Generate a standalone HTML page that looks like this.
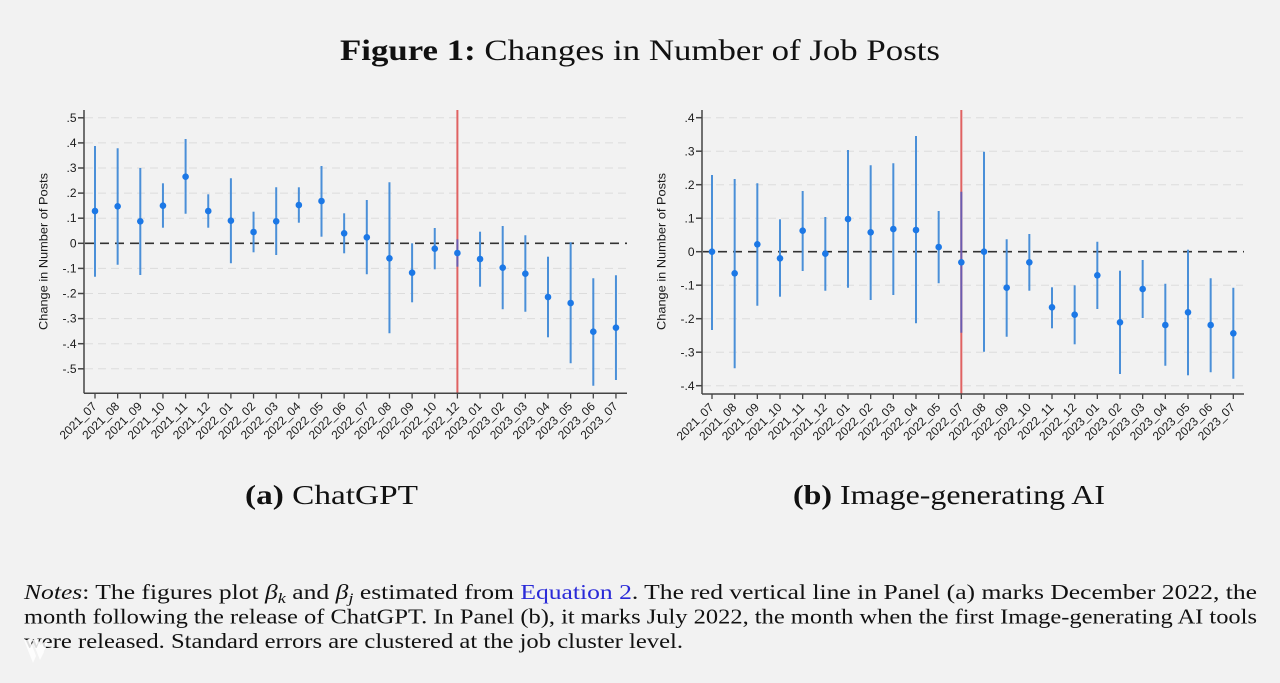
<!DOCTYPE html>
<html><head><meta charset="utf-8"><style>
html,body{margin:0;padding:0;background:#f2f2f2;}
svg{display:block;}
.tk{font-family:"Liberation Sans",Arial,sans-serif;font-size:12px;fill:#1a1a1a;}
.ser{font-family:"Liberation Serif","DejaVu Serif",serif;fill:#111;}
</style></head><body>
<svg width="1280" height="683" viewBox="0 0 1280 683" xmlns="http://www.w3.org/2000/svg">
<rect width="1280" height="683" fill="#f2f2f2"/>

<!-- Title -->
<text class="ser" x="340" y="60" font-size="30" textLength="600" lengthAdjust="spacingAndGlyphs"><tspan font-weight="bold">Figure 1:</tspan> Changes in Number of Job Posts</text>

<!-- ================= LEFT CHART ================= -->
<g stroke="#dcdcdc" stroke-width="1" stroke-dasharray="8 5">
<line x1="85" y1="117.8" x2="627" y2="117.8"/>
<line x1="85" y1="142.9" x2="627" y2="142.9"/>
<line x1="85" y1="168" x2="627" y2="168"/>
<line x1="85" y1="193.1" x2="627" y2="193.1"/>
<line x1="85" y1="218.2" x2="627" y2="218.2"/>
<line x1="85" y1="268.4" x2="627" y2="268.4"/>
<line x1="85" y1="293.5" x2="627" y2="293.5"/>
<line x1="85" y1="318.6" x2="627" y2="318.6"/>
<line x1="85" y1="343.7" x2="627" y2="343.7"/>
<line x1="85" y1="368.8" x2="627" y2="368.8"/>
</g>
<line x1="85" y1="243.3" x2="627" y2="243.3" stroke="#333" stroke-width="1.6" stroke-dasharray="9 6"/>
<line x1="457.4" y1="110" x2="457.4" y2="393" stroke="#e06262" stroke-width="2"/>
<!-- axes -->
<g stroke="#444" stroke-width="1.5">
<line x1="84" y1="110" x2="84" y2="393.3"/>
<line x1="84" y1="393.3" x2="627" y2="393.3"/>
<line x1="78" y1="117.8" x2="84" y2="117.8"/>
<line x1="78" y1="142.9" x2="84" y2="142.9"/>
<line x1="78" y1="168" x2="84" y2="168"/>
<line x1="78" y1="193.1" x2="84" y2="193.1"/>
<line x1="78" y1="218.2" x2="84" y2="218.2"/>
<line x1="78" y1="243.3" x2="84" y2="243.3"/>
<line x1="78" y1="268.4" x2="84" y2="268.4"/>
<line x1="78" y1="293.5" x2="84" y2="293.5"/>
<line x1="78" y1="318.6" x2="84" y2="318.6"/>
<line x1="78" y1="343.7" x2="84" y2="343.7"/>
<line x1="78" y1="368.8" x2="84" y2="368.8"/>
</g>
<g stroke="#444" stroke-width="1.3">
<line x1="95" y1="393" x2="95" y2="398.5"/>
<line x1="117.65" y1="393" x2="117.65" y2="398.5"/>
<line x1="140.3" y1="393" x2="140.3" y2="398.5"/>
<line x1="162.95" y1="393" x2="162.95" y2="398.5"/>
<line x1="185.6" y1="393" x2="185.6" y2="398.5"/>
<line x1="208.25" y1="393" x2="208.25" y2="398.5"/>
<line x1="230.9" y1="393" x2="230.9" y2="398.5"/>
<line x1="253.55" y1="393" x2="253.55" y2="398.5"/>
<line x1="276.2" y1="393" x2="276.2" y2="398.5"/>
<line x1="298.85" y1="393" x2="298.85" y2="398.5"/>
<line x1="321.5" y1="393" x2="321.5" y2="398.5"/>
<line x1="344.15" y1="393" x2="344.15" y2="398.5"/>
<line x1="366.8" y1="393" x2="366.8" y2="398.5"/>
<line x1="389.45" y1="393" x2="389.45" y2="398.5"/>
<line x1="412.1" y1="393" x2="412.1" y2="398.5"/>
<line x1="434.75" y1="393" x2="434.75" y2="398.5"/>
<line x1="457.4" y1="393" x2="457.4" y2="398.5"/>
<line x1="480.05" y1="393" x2="480.05" y2="398.5"/>
<line x1="502.7" y1="393" x2="502.7" y2="398.5"/>
<line x1="525.35" y1="393" x2="525.35" y2="398.5"/>
<line x1="548" y1="393" x2="548" y2="398.5"/>
<line x1="570.65" y1="393" x2="570.65" y2="398.5"/>
<line x1="593.3" y1="393" x2="593.3" y2="398.5"/>
<line x1="615.95" y1="393" x2="615.95" y2="398.5"/>
</g>
<!-- y tick labels -->
<g class="tk" text-anchor="end" font-size="12.5">
<text x="76.5" y="122">.5</text>
<text x="76.5" y="147">.4</text>
<text x="76.5" y="172">.3</text>
<text x="76.5" y="197">.2</text>
<text x="76.5" y="222">.1</text>
<text x="76.5" y="247.5">0</text>
<text x="76.5" y="272.5">-.1</text>
<text x="76.5" y="297.5">-.2</text>
<text x="76.5" y="322.5">-.3</text>
<text x="76.5" y="348">-.4</text>
<text x="76.5" y="373">-.5</text>
</g>
<text class="tk" font-size="11.5" text-anchor="middle" transform="translate(47.5,251.5) rotate(-90)" textLength="157" lengthAdjust="spacingAndGlyphs">Change in Number of Posts</text>
<!-- x labels -->
<g class="tk" text-anchor="end">
<text transform="translate(97.5,407) rotate(-45)">2021_07</text>
<text transform="translate(120.15,407) rotate(-45)">2021_08</text>
<text transform="translate(142.8,407) rotate(-45)">2021_09</text>
<text transform="translate(165.45,407) rotate(-45)">2021_10</text>
<text transform="translate(188.1,407) rotate(-45)">2021_11</text>
<text transform="translate(210.75,407) rotate(-45)">2021_12</text>
<text transform="translate(233.4,407) rotate(-45)">2022_01</text>
<text transform="translate(256.05,407) rotate(-45)">2022_02</text>
<text transform="translate(278.7,407) rotate(-45)">2022_03</text>
<text transform="translate(301.35,407) rotate(-45)">2022_04</text>
<text transform="translate(324,407) rotate(-45)">2022_05</text>
<text transform="translate(346.65,407) rotate(-45)">2022_06</text>
<text transform="translate(369.3,407) rotate(-45)">2022_07</text>
<text transform="translate(391.95,407) rotate(-45)">2022_08</text>
<text transform="translate(414.6,407) rotate(-45)">2022_09</text>
<text transform="translate(437.25,407) rotate(-45)">2022_10</text>
<text transform="translate(459.9,407) rotate(-45)">2022_12</text>
<text transform="translate(482.55,407) rotate(-45)">2023_01</text>
<text transform="translate(505.2,407) rotate(-45)">2023_02</text>
<text transform="translate(527.85,407) rotate(-45)">2023_03</text>
<text transform="translate(550.5,407) rotate(-45)">2023_04</text>
<text transform="translate(573.15,407) rotate(-45)">2023_05</text>
<text transform="translate(595.8,407) rotate(-45)">2023_06</text>
<text transform="translate(618.45,407) rotate(-45)">2023_07</text>
</g>
<!-- CIs -->
<g stroke="#4a8fd8" stroke-width="2">
<line x1="95" y1="146" x2="95" y2="276.7"/>
<line x1="117.65" y1="148.3" x2="117.65" y2="264.7"/>
<line x1="140.3" y1="168" x2="140.3" y2="275"/>
<line x1="162.95" y1="183.3" x2="162.95" y2="227.7"/>
<line x1="185.6" y1="139" x2="185.6" y2="213.7"/>
<line x1="208.25" y1="194.3" x2="208.25" y2="227.7"/>
<line x1="230.9" y1="178.3" x2="230.9" y2="263.3"/>
<line x1="253.55" y1="211.7" x2="253.55" y2="252.3"/>
<line x1="276.2" y1="187.3" x2="276.2" y2="255"/>
<line x1="298.85" y1="187.3" x2="298.85" y2="222.7"/>
<line x1="321.5" y1="166" x2="321.5" y2="236.7"/>
<line x1="344.15" y1="213.3" x2="344.15" y2="253.3"/>
<line x1="366.8" y1="200" x2="366.8" y2="274.3"/>
<line x1="389.45" y1="182.3" x2="389.45" y2="333.3"/>
<line x1="412.1" y1="243.3" x2="412.1" y2="302.3"/>
<line x1="434.75" y1="228" x2="434.75" y2="269.3"/>
<line x1="457.4" y1="239.3" x2="457.4" y2="266.7" stroke="#6a5cb0"/>
<line x1="480.05" y1="231.7" x2="480.05" y2="286.7"/>
<line x1="502.7" y1="226" x2="502.7" y2="309.3"/>
<line x1="525.35" y1="235.3" x2="525.35" y2="311.7"/>
<line x1="548" y1="256.7" x2="548" y2="337.3"/>
<line x1="570.65" y1="242.3" x2="570.65" y2="363.3"/>
<line x1="593.3" y1="278.3" x2="593.3" y2="385.7"/>
<line x1="615.95" y1="275.3" x2="615.95" y2="380"/>
</g>
<g fill="#1c78e6">
<circle cx="95" cy="211" r="3.3"/>
<circle cx="117.65" cy="206.3" r="3.3"/>
<circle cx="140.3" cy="221.3" r="3.3"/>
<circle cx="162.95" cy="205.7" r="3.3"/>
<circle cx="185.6" cy="176.7" r="3.3"/>
<circle cx="208.25" cy="211" r="3.3"/>
<circle cx="230.9" cy="220.7" r="3.3"/>
<circle cx="253.55" cy="232" r="3.3"/>
<circle cx="276.2" cy="221.3" r="3.3"/>
<circle cx="298.85" cy="205" r="3.3"/>
<circle cx="321.5" cy="201" r="3.3"/>
<circle cx="344.15" cy="233.3" r="3.3"/>
<circle cx="366.8" cy="237.3" r="3.3"/>
<circle cx="389.45" cy="258.3" r="3.3"/>
<circle cx="412.1" cy="272.7" r="3.3"/>
<circle cx="434.75" cy="248.7" r="3.3"/>
<circle cx="457.4" cy="253" r="3.3"/>
<circle cx="480.05" cy="259" r="3.3"/>
<circle cx="502.7" cy="267.7" r="3.3"/>
<circle cx="525.35" cy="273.7" r="3.3"/>
<circle cx="548" cy="297" r="3.3"/>
<circle cx="570.65" cy="303" r="3.3"/>
<circle cx="593.3" cy="331.7" r="3.3"/>
<circle cx="615.95" cy="327.7" r="3.3"/>
</g>

<!-- ================= RIGHT CHART ================= -->
<g stroke="#dcdcdc" stroke-width="1" stroke-dasharray="8 5">
<line x1="703" y1="117.7" x2="1243" y2="117.7"/>
<line x1="703" y1="151.2" x2="1243" y2="151.2"/>
<line x1="703" y1="184.7" x2="1243" y2="184.7"/>
<line x1="703" y1="218.2" x2="1243" y2="218.2"/>
<line x1="703" y1="285.2" x2="1243" y2="285.2"/>
<line x1="703" y1="318.7" x2="1243" y2="318.7"/>
<line x1="703" y1="352.2" x2="1243" y2="352.2"/>
<line x1="703" y1="385.7" x2="1243" y2="385.7"/>
</g>
<line x1="703" y1="251.7" x2="1244" y2="251.7" stroke="#333" stroke-width="1.6" stroke-dasharray="9 6"/>
<line x1="961.33" y1="110" x2="961.33" y2="394" stroke="#e06262" stroke-width="2"/>
<g stroke="#444" stroke-width="1.5">
<line x1="702" y1="110" x2="702" y2="394"/>
<line x1="702" y1="394" x2="1244" y2="394"/>
<line x1="696" y1="117.7" x2="702" y2="117.7"/>
<line x1="696" y1="151.2" x2="702" y2="151.2"/>
<line x1="696" y1="184.7" x2="702" y2="184.7"/>
<line x1="696" y1="218.2" x2="702" y2="218.2"/>
<line x1="696" y1="251.7" x2="702" y2="251.7"/>
<line x1="696" y1="285.2" x2="702" y2="285.2"/>
<line x1="696" y1="318.7" x2="702" y2="318.7"/>
<line x1="696" y1="352.2" x2="702" y2="352.2"/>
<line x1="696" y1="385.7" x2="702" y2="385.7"/>
</g>
<g stroke="#444" stroke-width="1.3">
<line x1="712" y1="394" x2="712" y2="399"/>
<line x1="734.67" y1="394" x2="734.67" y2="399"/>
<line x1="757.33" y1="394" x2="757.33" y2="399"/>
<line x1="780" y1="394" x2="780" y2="399"/>
<line x1="802.67" y1="394" x2="802.67" y2="399"/>
<line x1="825.33" y1="394" x2="825.33" y2="399"/>
<line x1="848" y1="394" x2="848" y2="399"/>
<line x1="870.67" y1="394" x2="870.67" y2="399"/>
<line x1="893.33" y1="394" x2="893.33" y2="399"/>
<line x1="916" y1="394" x2="916" y2="399"/>
<line x1="938.67" y1="394" x2="938.67" y2="399"/>
<line x1="961.33" y1="394" x2="961.33" y2="399"/>
<line x1="984" y1="394" x2="984" y2="399"/>
<line x1="1006.67" y1="394" x2="1006.67" y2="399"/>
<line x1="1029.33" y1="394" x2="1029.33" y2="399"/>
<line x1="1052" y1="394" x2="1052" y2="399"/>
<line x1="1074.67" y1="394" x2="1074.67" y2="399"/>
<line x1="1097.33" y1="394" x2="1097.33" y2="399"/>
<line x1="1120" y1="394" x2="1120" y2="399"/>
<line x1="1142.67" y1="394" x2="1142.67" y2="399"/>
<line x1="1165.33" y1="394" x2="1165.33" y2="399"/>
<line x1="1188" y1="394" x2="1188" y2="399"/>
<line x1="1210.67" y1="394" x2="1210.67" y2="399"/>
<line x1="1233.33" y1="394" x2="1233.33" y2="399"/>
</g>
<g class="tk" text-anchor="end" font-size="12.5">
<text x="694.5" y="122">.4</text>
<text x="694.5" y="155.5">.3</text>
<text x="694.5" y="189">.2</text>
<text x="694.5" y="222.5">.1</text>
<text x="694.5" y="256">0</text>
<text x="694.5" y="289.5">-.1</text>
<text x="694.5" y="323">-.2</text>
<text x="694.5" y="356.5">-.3</text>
<text x="694.5" y="390">-.4</text>
</g>
<text class="tk" font-size="11.5" text-anchor="middle" transform="translate(665.5,251.5) rotate(-90)" textLength="157" lengthAdjust="spacingAndGlyphs">Change in Number of Posts</text>
<g class="tk" text-anchor="end">
<text transform="translate(714.5,408) rotate(-45)">2021_07</text>
<text transform="translate(737.17,408) rotate(-45)">2021_08</text>
<text transform="translate(759.83,408) rotate(-45)">2021_09</text>
<text transform="translate(782.5,408) rotate(-45)">2021_10</text>
<text transform="translate(805.17,408) rotate(-45)">2021_11</text>
<text transform="translate(827.83,408) rotate(-45)">2021_12</text>
<text transform="translate(850.5,408) rotate(-45)">2022_01</text>
<text transform="translate(873.17,408) rotate(-45)">2022_02</text>
<text transform="translate(895.83,408) rotate(-45)">2022_03</text>
<text transform="translate(918.5,408) rotate(-45)">2022_04</text>
<text transform="translate(941.17,408) rotate(-45)">2022_05</text>
<text transform="translate(963.83,408) rotate(-45)">2022_07</text>
<text transform="translate(986.5,408) rotate(-45)">2022_08</text>
<text transform="translate(1009.17,408) rotate(-45)">2022_09</text>
<text transform="translate(1031.83,408) rotate(-45)">2022_10</text>
<text transform="translate(1054.5,408) rotate(-45)">2022_11</text>
<text transform="translate(1077.17,408) rotate(-45)">2022_12</text>
<text transform="translate(1099.83,408) rotate(-45)">2023_01</text>
<text transform="translate(1122.5,408) rotate(-45)">2023_02</text>
<text transform="translate(1145.17,408) rotate(-45)">2023_03</text>
<text transform="translate(1167.83,408) rotate(-45)">2023_04</text>
<text transform="translate(1190.5,408) rotate(-45)">2023_05</text>
<text transform="translate(1213.17,408) rotate(-45)">2023_06</text>
<text transform="translate(1235.83,408) rotate(-45)">2023_07</text>
</g>
<g stroke="#4a8fd8" stroke-width="2">
<line x1="712" y1="175" x2="712" y2="330"/>
<line x1="734.67" y1="179" x2="734.67" y2="368.3"/>
<line x1="757.33" y1="183.3" x2="757.33" y2="305.7"/>
<line x1="780" y1="219.3" x2="780" y2="296.7"/>
<line x1="802.67" y1="191" x2="802.67" y2="271"/>
<line x1="825.33" y1="217" x2="825.33" y2="290.7"/>
<line x1="848" y1="150" x2="848" y2="287.7"/>
<line x1="870.67" y1="165.3" x2="870.67" y2="300"/>
<line x1="893.33" y1="163.3" x2="893.33" y2="295"/>
<line x1="916" y1="136" x2="916" y2="323.3"/>
<line x1="938.67" y1="211" x2="938.67" y2="283.3"/>
<line x1="961.33" y1="191.7" x2="961.33" y2="332.7" stroke="#6a5cb0"/>
<line x1="984" y1="151.7" x2="984" y2="351.7"/>
<line x1="1006.67" y1="239.3" x2="1006.67" y2="336.7"/>
<line x1="1029.33" y1="234" x2="1029.33" y2="290.7"/>
<line x1="1052" y1="287.3" x2="1052" y2="328.3"/>
<line x1="1074.67" y1="285.3" x2="1074.67" y2="344.3"/>
<line x1="1097.33" y1="241.7" x2="1097.33" y2="309"/>
<line x1="1120" y1="270.7" x2="1120" y2="374"/>
<line x1="1142.67" y1="260" x2="1142.67" y2="318"/>
<line x1="1165.33" y1="283.7" x2="1165.33" y2="365.7"/>
<line x1="1188" y1="249.7" x2="1188" y2="375.3"/>
<line x1="1210.67" y1="278.3" x2="1210.67" y2="372.3"/>
<line x1="1233.33" y1="287.7" x2="1233.33" y2="378.7"/>
</g>
<g fill="#1c78e6">
<circle cx="712" cy="251.7" r="3.3"/>
<circle cx="734.67" cy="273.3" r="3.3"/>
<circle cx="757.33" cy="244.3" r="3.3"/>
<circle cx="780" cy="258.3" r="3.3"/>
<circle cx="802.67" cy="230.7" r="3.3"/>
<circle cx="825.33" cy="253.7" r="3.3"/>
<circle cx="848" cy="219" r="3.3"/>
<circle cx="870.67" cy="232.3" r="3.3"/>
<circle cx="893.33" cy="229" r="3.3"/>
<circle cx="916" cy="230" r="3.3"/>
<circle cx="938.67" cy="247" r="3.3"/>
<circle cx="961.33" cy="262.3" r="3.3"/>
<circle cx="984" cy="251.7" r="3.3"/>
<circle cx="1006.67" cy="287.7" r="3.3"/>
<circle cx="1029.33" cy="262.3" r="3.3"/>
<circle cx="1052" cy="307.3" r="3.3"/>
<circle cx="1074.67" cy="314.7" r="3.3"/>
<circle cx="1097.33" cy="275.3" r="3.3"/>
<circle cx="1120" cy="322.3" r="3.3"/>
<circle cx="1142.67" cy="289" r="3.3"/>
<circle cx="1165.33" cy="325" r="3.3"/>
<circle cx="1188" cy="312.3" r="3.3"/>
<circle cx="1210.67" cy="325" r="3.3"/>
<circle cx="1233.33" cy="333.3" r="3.3"/>
</g>

<!-- Captions -->
<text class="ser" x="245" y="504" font-size="27" textLength="173" lengthAdjust="spacingAndGlyphs"><tspan font-weight="bold">(a)</tspan> ChatGPT</text>
<text class="ser" x="793" y="504" font-size="27" textLength="312" lengthAdjust="spacingAndGlyphs"><tspan font-weight="bold">(b)</tspan> Image-generating AI</text>

<!-- Notes -->
<text class="ser" x="24" y="599" font-size="21" textLength="1233" lengthAdjust="spacingAndGlyphs"><tspan font-style="italic">Notes</tspan>: The figures plot <tspan font-style="italic">β</tspan><tspan font-style="italic" font-size="15" dy="4">k</tspan><tspan dy="-4"> and </tspan><tspan font-style="italic">β</tspan><tspan font-style="italic" font-size="15" dy="4">j</tspan><tspan dy="-4"> estimated from </tspan><tspan fill="#2a2ad8">Equation 2</tspan>.  The red vertical line in Panel (a) marks December 2022, the</text>
<text class="ser" x="24" y="623.5" font-size="21" textLength="1233" lengthAdjust="spacingAndGlyphs">month following the release of ChatGPT. In Panel (b), it marks July 2022, the month when the first Image-generating AI tools</text>
<text class="ser" x="24" y="648" font-size="21" textLength="659" lengthAdjust="spacingAndGlyphs">were released. Standard errors are clustered at the job cluster level.</text>

<!-- watermark -->
<g fill="#ffffff" opacity="0.85">
<polygon points="24,640 30,640 36,656 33,663"/>
<polygon points="32,640 38,640 44,652 40,660"/>
<polygon points="38,648 46,640 48,644 42,654"/>
</g>
</svg>
</body></html>
